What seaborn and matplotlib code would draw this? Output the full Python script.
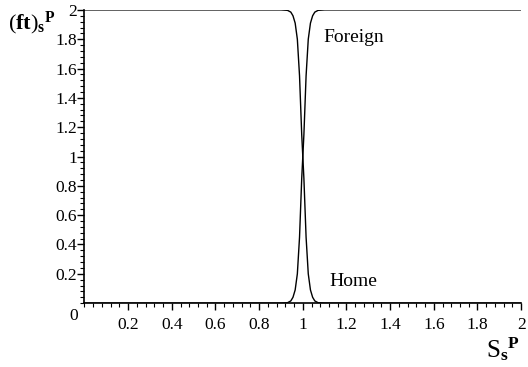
import numpy as np
import pandas as pd
import matplotlib
matplotlib.use("Agg")
import matplotlib.pyplot as plt
import seaborn as sns
from matplotlib.ticker import MultipleLocator, FixedLocator

# data
s_values = [0.0, 0.90, 0.93, 0.945, 0.955, 0.965, 0.975, 0.985, 0.995, 1.0,
            1.005, 1.015, 1.025, 1.035, 1.045, 1.055, 1.07, 1.10, 2.0]
home =     [2.0, 2.00, 1.997, 1.985, 1.96, 1.91, 1.80, 1.55, 1.15, 1.0,
            0.85, 0.45, 0.20, 0.09, 0.04, 0.015, 0.003, 0.0, 0.0]
foreign =  [0.0, 0.00, 0.003, 0.015, 0.04, 0.09, 0.20, 0.45, 0.85, 1.0,
            1.15, 1.55, 1.80, 1.91, 1.96, 1.985, 1.997, 2.0, 2.0]
xtick_vals = [0.2, 0.4, 0.6, 0.8, 1, 1.2, 1.4, 1.6, 1.8, 2]
xtick_labels = ["0.2", "0.4", "0.6", "0.8", "1", "1.2", "1.4", "1.6", "1.8", "2"]
ytick_vals = [0.2, 0.4, 0.6, 0.8, 1, 1.2, 1.4, 1.6, 1.8, 2]
ytick_labels = ["0.2", "0.4", "0.6", "0.8", "1", "1.2", "1.4", "1.6", "1.8", "2"]

df = pd.DataFrame({
    "s": s_values * 2,
    "ft": home + foreign,
    "series": ["Home"] * len(s_values) + ["Foreign"] * len(s_values),
})

sns.set_theme(style="white")
plt.rcParams["font.family"] = ["Liberation Serif", "DejaVu Serif"]
plt.rcParams["mathtext.fontset"] = "custom"
plt.rcParams["mathtext.rm"] = "Liberation Serif"
plt.rcParams["mathtext.bf"] = "Liberation Serif:bold"
plt.rcParams["mathtext.it"] = "Liberation Serif:italic"

fig = plt.figure(figsize=(5.28, 3.67), dpi=100)
ax = fig.add_axes([0.160, 0.174, 0.827, 0.799])

sns.lineplot(data=df, x="s", y="ft", units="series", estimator=None,
             color="black", linewidth=1.0, sort=False, ax=ax, legend=False)

ax.set_xlim(0, 2)
ax.set_ylim(0, 2)
for sp in ["top", "right"]:
    ax.spines[sp].set_visible(False)
for sp in ["left", "bottom"]:
    ax.spines[sp].set_color("black")
    ax.spines[sp].set_linewidth(1.2)

ax.xaxis.set_major_locator(FixedLocator(xtick_vals))
ax.set_xticklabels(xtick_labels)
ax.yaxis.set_major_locator(FixedLocator(ytick_vals))
ax.set_yticklabels(ytick_labels)
ax.xaxis.set_minor_locator(MultipleLocator(0.04))
ax.yaxis.set_minor_locator(MultipleLocator(0.04))
ax.tick_params(which="both", bottom=True, left=True, top=False, right=False)
ax.tick_params(which="major", direction="out", length=5, width=1, color="black",
               labelsize=12.5, labelcolor="black")
ax.tick_params(which="minor", direction="out", length=3, width=0.8, color="black")
ax.tick_params(axis="y", which="major", pad=0.5)
ax.tick_params(axis="x", which="major", pad=5)

ax.set_xlabel("")
ax.set_ylabel("")
ax.grid(False)

ax.text(-0.03, -0.035, "0", ha="right", va="top", fontsize=12.5, color="black")
ax.text(1.093, 1.783, "Foreign", fontsize=14, ha="left", va="baseline", color="black")
ax.text(1.123, 0.116, "Home", fontsize=14, ha="left", va="baseline", color="black")

fig.text(0.016, 0.935, r"$(\mathbf{ft})_{\mathbf{s}}{}^{\mathbf{P}}$", fontsize=16,
         ha="left", va="center", color="black")
fig.text(0.985, 0.05, r"$\mathrm{S}_{\mathbf{s}}{}^{\mathbf{P}}$", fontsize=18,
         ha="right", va="center", color="black")

fig.savefig("out.png", dpi=100)
